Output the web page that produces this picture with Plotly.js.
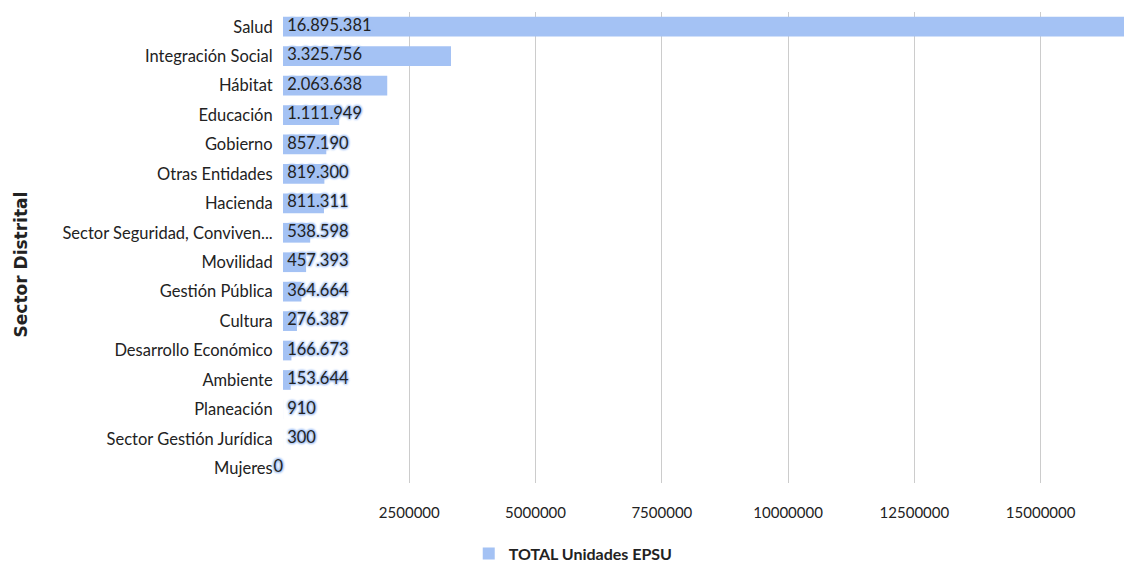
<!DOCTYPE html>
<html>
<head>
<meta charset="utf-8">
<script src="https://cdn.plot.ly/plotly-3.0.1.min.js"></script>
<style>html,body{margin:0;padding:0;background:#fff;}#chart{width:1124px;height:566px;}</style>
</head>
<body>
<div id="chart"></div>
<script>
const categories = ["Salud","Integración Social","Hábitat","Educación","Gobierno","Otras Entidades","Hacienda","Sector Seguridad, Conviven...","Movilidad","Gestión Pública","Cultura","Desarrollo Económico","Ambiente","Planeación","Sector Gestión Jurídica","Mujeres"];
const totalUnidades = [16895381,3325756,2063638,1111949,857190,819300,811311,538598,457393,364664,276387,166673,153644,910,300,0];
const valueLabels = ["16.895.381","3.325.756","2.063.638","1.111.949","857.190","819.300","811.311","538.598","457.393","364.664","276.387","166.673","153.644","910","300","0"];
const xTicks = [2500000,5000000,7500000,10000000,12500000,15000000];

const FONT = "Lato, 'Open Sans', sans-serif";
const BAR = "#a4c2f4";
const halo = ["1px 1px 2px","-1px -1px 2px","1px -1px 2px","-1px 1px 2px"].map(s => s + " " + BAR).join(", ");

const bars = {
  type: "bar",
  orientation: "h",
  y: categories,
  x: totalUnidades,
  name: "<b>TOTAL Unidades EPSU</b>",
  marker: {color: BAR},
  hoverinfo: "skip",
  showlegend: true
};
const labels = {
  type: "scatter",
  mode: "text",
  y: categories,
  x: totalUnidades.map(() => 0),
  text: valueLabels.map(v => v === "0" ? v : "\u00a0" + v),
  textposition: valueLabels.map(v => v === "0" ? "middle left" : "middle right"),
  textfont: {family: FONT, size: 16.5, color: "#222", shadow: halo},
  showlegend: false,
  hoverinfo: "skip",
  cliponaxis: false
};

const layout = {
  width: 1124, height: 566,
  margin: {l: 283, r: 0, t: 12, b: 83},
  paper_bgcolor: "#fff", plot_bgcolor: "#fff",
  bargap: 0.33,
  font: {family: FONT, color: "#222"},
  xaxis: {
    range: [0, 16650000],
    tickvals: xTicks,
    ticktext: xTicks.map(String),
    showgrid: true, gridcolor: "#cccccc", gridwidth: 1,
    zeroline: false, showline: false,
    tickfont: {family: FONT, size: 15, color: "#222"},
    ticks: "outside", ticklen: 16, tickcolor: "rgba(0,0,0,0)",
    fixedrange: true
  },
  yaxis: {
    type: "category",
    range: [15.5, -0.5],
    autorange: false,
    tickfont: {family: FONT, size: 16.5, color: "#222"},
    ticks: "outside", ticklen: 6, tickcolor: "rgba(0,0,0,0)",
    showgrid: false, zeroline: false, showline: false,
    automargin: false,
    fixedrange: true
  },
  annotations: [{
    text: "<b>Sector Distrital</b>",
    xref: "paper", yref: "paper",
    x: -0.311, y: 0.465,
    xanchor: "center", yanchor: "middle",
    textangle: -90, showarrow: false,
    font: {family: "'DejaVu Sans', sans-serif", size: 17, color: "#222"}
  }],
  legend: {
    orientation: "h",
    xref: "container", yref: "container",
    x: 0.51, xanchor: "center",
    y: 0.052, yanchor: "top",
    font: {family: FONT, size: 16, color: "#222"},
    itemsizing: "constant"
  },
  showlegend: true
};

Plotly.newPlot("chart", [bars, labels], layout, {displayModeBar: false, staticPlot: true});
</script>
</body>
</html>
